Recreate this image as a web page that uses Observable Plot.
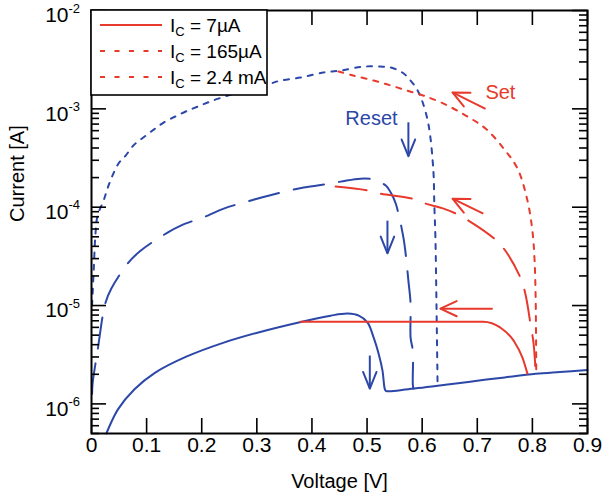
<!DOCTYPE html>
<html><head><meta charset="utf-8">
<script src="https://cdn.jsdelivr.net/npm/d3@7"></script>
<script src="https://cdn.jsdelivr.net/npm/@observablehq/plot@0.6"></script>
<style>
body{margin:0;background:#fff;}
#chart{width:607px;height:501px;}
svg{font-family:"Liberation Sans",Arial,Helvetica,sans-serif;}
</style>
</head><body><div id="chart"></div>
<script>
// ---------- data (Voltage [V], Current [A]) ----------
// Reset, Ic = 7 µA (solid blue) followed by the HRS read branch
const reset7V = [0.027,0.029,0.048,0.078,0.115,0.172,0.240,0.301,0.374,0.434,0.465,0.485,0.501,0.512,0.521,0.528,0.532,0.534,0.575,0.650,0.700,0.750,0.806,0.850,0.900];
const reset7I = [5.0e-7,5.33e-7,8.8e-7,1.41e-6,2.07e-6,3.02e-6,4.2e-6,5.3e-6,6.7e-6,7.89e-6,8.28e-6,7.89e-6,6.7e-6,4.71e-6,3.24e-6,2.18e-6,1.43e-6,1.36e-6,1.41e-6,1.58e-6,1.72e-6,1.86e-6,2.02e-6,2.11e-6,2.21e-6];
// Reset, Ic = 165 µA (long-dashed blue)
const reset165V = [0.001,0.002,0.011,0.025,0.036,0.067,0.089,0.138,0.162,0.211,0.240,0.294,0.321,0.376,0.410,0.452,0.488,0.512,0.534,0.543,0.552,0.566,0.570,0.575,0.579,0.579,0.583,0.583,0.584];
const reset165I = [1.26e-6,1.62e-6,3.47e-6,1.05e-5,1.49e-5,2.73e-5,3.61e-5,5.52e-5,6.5e-5,8.22e-5,9.68e-5,1.19e-4,1.31e-4,1.55e-4,1.66e-4,1.82e-4,1.95e-4,1.91e-4,1.66e-4,1.41e-4,1.09e-4,4.91e-5,3.37e-5,1.79e-5,1.04e-5,4.71e-6,3.48e-6,1.60e-6,1.43e-6];
// Reset, Ic = 2.4 mA (dotted blue)
const reset2400V = [0.001,0.004,0.007,0.011,0.022,0.029,0.038,0.049,0.062,0.076,0.094,0.113,0.131,0.152,0.171,0.192,0.230,0.325,0.343,0.379,0.421,0.452,0.494,0.524,0.543,0.564,0.579,0.592,0.601,0.610,0.615,0.619,0.621,0.622,0.624,0.626,0.628];
const reset2400I = [1.0e-5,2.26e-5,5.13e-5,8.22e-5,1.17e-4,1.55e-4,2.09e-4,2.78e-4,3.35e-4,4.24e-4,5.11e-4,6.15e-4,7.26e-4,8.36e-4,9.4e-4,1.05e-3,1.27e-3,1.81e-3,1.94e-3,2.08e-3,2.34e-3,2.45e-3,2.69e-3,2.69e-3,2.63e-3,2.34e-3,1.94e-3,1.53e-3,1.16e-3,7.6e-4,5.11e-4,2.98e-4,2.0e-4,1.09e-4,5.0e-5,1.0e-5,1.5e-6];
// Set, Ic = 7 µA (solid red)
const set7V = [0.379,0.500,0.600,0.711,0.742,0.766,0.782,0.791];
const set7I = [6.85e-6,6.85e-6,6.85e-6,6.85e-6,5.96e-6,4.4e-6,2.95e-6,2.03e-6];
// Set, Ic = 165 µA (long-dashed red)
const set165V = [0.443,0.501,0.525,0.583,0.606,0.639,0.661,0.684,0.733,0.751,0.779,0.788,0.797,0.802,0.806];
const set165I = [1.62e-4,1.48e-4,1.37e-4,1.22e-4,1.09e-4,9.68e-5,8.61e-5,7.31e-5,4.68e-5,3.61e-5,1.88e-5,1.26e-5,6.25e-6,4.2e-6,2.08e-6];
// Set, Ic = 2.4 mA (dotted red)
const set2400V = [0.448,0.475,0.512,0.543,0.573,0.603,0.639,0.679,0.715,0.748,0.773,0.791,0.800,0.804,0.806,0.807];
const set2400I = [2.4e-3,2.18e-3,1.94e-3,1.73e-3,1.53e-3,1.36e-3,1.13e-3,8.55e-4,6.31e-4,3.94e-4,2.47e-4,1.17e-4,5.78e-5,2.86e-5,1.12e-5,2.04e-6];

// arrows (tail -> tip) in data units
const resetArrowV1 = [0.575,0.537,0.505], resetArrowI1 = [7.3e-4,7.3e-5,3.1e-6];
const resetArrowV2 = [0.575,0.537,0.505], resetArrowI2 = [3.3e-4,3.4e-5,1.43e-6];
const setArrowV1 = [0.715,0.711,0.728], setArrowI1 = [1.0e-3,8.6e-5,9.3e-6];
const setArrowV2 = [0.655,0.655,0.633], setArrowI2 = [1.47e-3,1.22e-4,9.3e-6];
const resetArrowAngle = [180,180,180];
const setArrowAngle = [-64,-64,-90];

// annotation labels
const noteText = ["Reset","Set"];
const noteV = [0.508,0.742];
const noteI = [7.9e-4,1.45e-3];

// axis ticks
const xTicks = [0,0.1,0.2,0.3,0.4,0.5,0.6,0.7,0.8,0.9];
const yMajor = [1e-6,1e-5,1e-4,1e-3,1e-2];
const yExp = ["-6","-5","-4","-3","-2"];
const yMinorMant = [2,3,4,5,6,7,8,9];
const yMinorDecades = [1e-7,1e-6,1e-5,1e-4,1e-3];

const legendLabels = [["I","C"," = 7\u00B5A"],["I","C"," = 165\u00B5A"],["I","C"," = 2.4 mA"]];

// ---------- build ----------
const blue = "#2c47a8", red = "#e8392d";
const pts = (V, I) => V.map((v, i) => ({V: v, I: I[i]}));
const yMinor = yMinorDecades.flatMap(d => yMinorMant.map(m => m * d)).filter(v => v >= 5e-7 && v < 1e-2);
const arrows = (V1, I1, V2, I2, A) => V1.map((v, i) => ({x1: v, y1: I1[i], x2: V2[i], y2: I2[i], a: A[i]}));
const resetArrows = arrows(resetArrowV1, resetArrowI1, resetArrowV2, resetArrowI2, resetArrowAngle);
const setArrows = arrows(setArrowV1, setArrowI1, setArrowV2, setArrowI2, setArrowAngle);
const notes = noteText.map((t, i) => ({t, V: noteV[i], I: noteI[i]}));

const W = 607, H = 501, mL = 91, mR = 20, mT = 10, mB = 68;
const innerW = W - mL - mR, innerH = H - mT - mB;
const majorLen = 15, minorLen = 8;

function wings(half) {
  const a = half * Math.PI / 180;
  return {draw(ctx, l) {
    ctx.moveTo(-l * Math.sin(a), l * Math.cos(a));
    ctx.lineTo(0, 0);
    ctx.lineTo(l * Math.sin(a), l * Math.cos(a));
  }};
}

const lineOpts = {x: "V", y: "I", strokeWidth: 2, curve: "catmull-rom"};

const plot = Plot.plot({
  width: W, height: H,
  marginLeft: mL, marginRight: mR, marginTop: mT, marginBottom: mB,
  x: {domain: [0, 0.9], axis: null},
  y: {type: "log", domain: [5e-7, 1e-2], axis: null},
  style: {fontFamily: '"Liberation Sans", Arial, Helvetica, sans-serif', background: "white"},
  marks: [
    // blue reset curves
    Plot.line(pts(reset7V, reset7I), {...lineOpts, stroke: blue}),
    Plot.line(pts(reset165V, reset165I), {...lineOpts, stroke: blue, strokeDasharray: "31,15"}),
    Plot.line(pts(reset2400V, reset2400I), {...lineOpts, stroke: blue, strokeDasharray: "5,7"}),
    // red set curves
    Plot.line(pts(set7V, set7I), {...lineOpts, curve: "monotone-x", stroke: red}),
    Plot.line(pts(set165V, set165I), {...lineOpts, stroke: red, strokeDasharray: "31,15"}),
    Plot.line(pts(set2400V, set2400I), {...lineOpts, stroke: red, strokeDasharray: "5,7"}),
    // arrows
    Plot.link(resetArrows, {x1: "x1", y1: "y1", x2: "x2", y2: "y2", stroke: blue, strokeWidth: 2}),
    Plot.vector(resetArrows, {x: "x2", y: "y2", rotate: "a", length: 18, anchor: "start", shape: wings(22), stroke: blue, strokeWidth: 2, fill: "none"}),
    Plot.link(setArrows, {x1: "x1", y1: "y1", x2: "x2", y2: "y2", stroke: red, strokeWidth: 2}),
    Plot.vector(setArrows, {x: "x2", y: "y2", rotate: "a", length: 18, anchor: "start", shape: wings(25), stroke: red, strokeWidth: 2, fill: "none"}),
    Plot.text(notes, {x: "V", y: "I", text: "t", fill: (d) => d.t === "Set" ? red : blue, fontSize: 20}),
    // ticks (inward, on all sides)
    Plot.tickY(yMajor, {y: d => d, insetRight: innerW - majorLen, stroke: "black", strokeWidth: 1.6}),
    Plot.tickY(yMinor, {y: d => d, insetRight: innerW - minorLen, stroke: "black", strokeWidth: 1.6}),
    Plot.tickY(yMajor, {y: d => d, insetLeft: innerW - majorLen, stroke: "black", strokeWidth: 1.6}),
    Plot.tickY(yMinor, {y: d => d, insetLeft: innerW - minorLen, stroke: "black", strokeWidth: 1.6}),
    Plot.tickX(xTicks, {x: d => d, insetTop: innerH - majorLen, stroke: "black", strokeWidth: 1.6}),
    Plot.tickX(xTicks, {x: d => d, insetBottom: innerH - majorLen, stroke: "black", strokeWidth: 1.6}),
    Plot.frame({stroke: "black", strokeWidth: 2}),
    // tick labels
    Plot.text(xTicks, {x: d => d, frameAnchor: "bottom", dy: 18, text: d => d === 0 ? "0" : d.toFixed(1), fontSize: 21, fill: "black"}),
    Plot.text(yMajor, {y: d => d, frameAnchor: "left", dx: -23, dy: 5, textAnchor: "end", text: () => "10", fontSize: 21, fill: "black"}),
    Plot.text(yMajor, {y: d => d, frameAnchor: "left", dx: -23, dy: -2, textAnchor: "start", text: (d, i) => yExp[i], fontSize: 13, fill: "black"}),
    // axis titles
    Plot.text(["Voltage [V]"], {frameAnchor: "bottom", dy: 54, text: d => d, fontSize: 20, fill: "black"}),
    Plot.text(["Current [A]"], {frameAnchor: "left", dx: -74, rotate: -90, text: d => d, fontSize: 20, fill: "black"})
  ]
});

document.getElementById("chart").append(plot);

// ---------- legend (inside the plot, upper-left) ----------
const svg = d3.select(plot);
const lg = svg.append("g").attr("class", "legend").attr("text-anchor", "start");
lg.append("rect").attr("x", mL).attr("y", mT).attr("width", 176).attr("height", 85)
  .attr("fill", "white").attr("stroke", "black").attr("stroke-width", 1.6);
const legendDash = [null, "5,9.5", "5,9.5"];
legendLabels.forEach((lab, i) => {
  const yc = 25 + i * 26;
  lg.append("line").attr("x1", 100).attr("x2", 162).attr("y1", yc).attr("y2", yc)
    .attr("stroke", red).attr("stroke-width", 2)
    .attr("stroke-dasharray", legendDash[i]);
  const t = lg.append("text").attr("x", 170).attr("y", yc + 7).attr("font-size", 19)
    .attr("fill", "black").attr("text-anchor", "start");
  t.append("tspan").text(lab[0]);
  t.append("tspan").attr("dy", 4).attr("font-size", 13).text(lab[1]);
  t.append("tspan").attr("dy", -4).text(lab[2]);
});
</script>
</body></html>
